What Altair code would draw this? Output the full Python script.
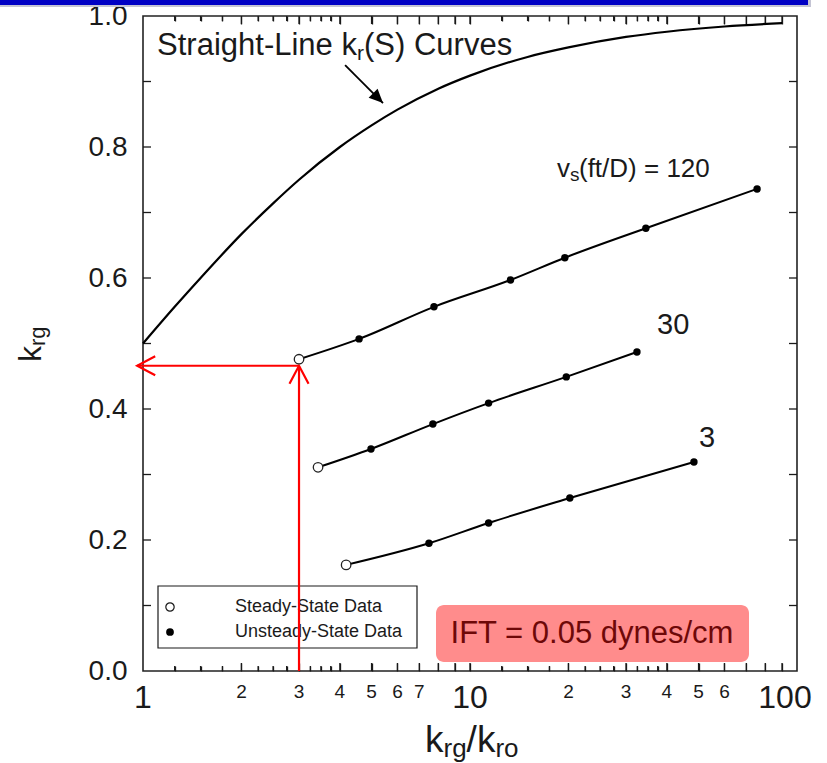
import altair as alt
import pandas as pd

# Straight-line relative permeability curve: krg against krg/kro
straight_ratio = [1, 1.25, 1.5, 2, 2.5, 3, 4, 5, 6, 8, 10, 15, 20, 30, 40, 60, 90]
straight_krg = [0.50, 0.556, 0.60, 0.667, 0.714, 0.75, 0.80, 0.833, 0.857,
                0.889, 0.909, 0.9375, 0.952, 0.968, 0.976, 0.984, 0.989]

# Displacement runs at three superficial velocities (first point is steady-state)
run_velocity = [120, 30, 3]
run_ratio = [
    [3.0, 4.58, 7.76, 13.3, 19.5, 34.5, 75.5],
    [3.43, 4.98, 7.7, 11.4, 19.7, 32.4],
    [4.18, 7.49, 11.4, 20.2, 48.4],
]
run_krg = [
    [0.476, 0.507, 0.556, 0.597, 0.631, 0.676, 0.736],
    [0.311, 0.339, 0.377, 0.409, 0.449, 0.487],
    [0.162, 0.195, 0.226, 0.264, 0.319],
]

# Reading krg off at krg/kro = 3
read_ratio = 3
read_krg = 0.466
read_left = 0.96

# Axis labels and ticks
x_decade_values = [1, 10]
x_decade_text = ["1", "10"]
x_end_values = [100]
x_end_text = ["100"]
x_digit_values = [2, 3, 4, 5, 6, 7, 20, 30, 40, 50, 60]
x_digit_text = ["2", "3", "4", "5", "6", "7", "2", "3", "4", "5", "6"]
x_major_ticks = [2, 3, 4, 5, 6, 7, 8, 9, 10, 20, 30, 40, 50, 60, 70, 80, 90]
x_minor_ticks = [1.25, 1.5, 1.75, 2.25, 2.5, 2.75, 3.25, 3.5, 3.75,
                 12.5, 15, 17.5, 22.5, 25, 27.5, 32.5, 35, 37.5]
y_label_values = [0.0, 0.2, 0.4, 0.6, 0.8, 1.0]
y_ticks = [0.1, 0.2, 0.3, 0.4, 0.5, 0.6, 0.7, 0.8, 0.9]

FONT = "Liberation Sans"
INK = "#1a1a1a"
RED = "#ff0000"
W, H = 654, 655

x_scale = alt.Scale(type="log", domain=[1, 100], nice=False)
y_scale = alt.Scale(domain=[0, 1], nice=False)

y_axis = alt.Axis(
    values=y_label_values, format=".1f", title=None, ticks=False, domain=False,
    grid=False, labelFont=FONT, labelFontSize=28, labelColor=INK, labelPadding=16,
)

X = alt.X("ratio:Q", scale=x_scale, axis=None)
Y = alt.Y("krg:Q", scale=y_scale, axis=y_axis)

# ---- tables ----
straight = pd.DataFrame({"ratio": straight_ratio, "krg": straight_krg})

rows = []
for vs, xs, ys in zip(run_velocity, run_ratio, run_krg):
    for i, (a, b) in enumerate(zip(xs, ys)):
        rows.append({"ratio": a, "krg": b, "vs": vs, "order": i,
                     "state": "steady" if i == 0 else "unsteady"})
runs = pd.DataFrame(rows)


# ---- frame ticks along top and bottom: axes pulled inside the frame ----
def tick_axis(values, size, top):
    return alt.Axis(
        orient="top" if top else "bottom", values=values, labels=False,
        domain=False, grid=False, ticks=True, tickSize=size, tickWidth=1.3,
        tickColor=INK, offset=-size, title=None,
    )


def x_ticks(values, length_px, top):
    depth = length_px / H
    xs = [float(v) for v in values]
    df = pd.DataFrame({
        "ratio": xs,
        "ratio2": xs,
        "krg": [1.0 if top else 0.0] * len(xs),
        "krg2": [1.0 - depth if top else depth] * len(xs),
    })
    return alt.Chart(df).mark_rule(color=INK, strokeWidth=1.3).encode(
        x=alt.X("ratio:Q", scale=x_scale, axis=tick_axis(xs, length_px, top)),
        x2="ratio2:Q", y=Y, y2="krg2:Q")


# ---- frame ticks along left and right ----
def y_ticks_layer(length, right):
    df = pd.DataFrame({"krg": y_ticks})
    centre = W - length / 2 if right else length / 2
    return alt.Chart(df).mark_tick(
        color=INK, orient="horizontal", size=length, thickness=1.3, opacity=1
    ).encode(y=Y, x=alt.value(centre))


ticks = [
    x_ticks(x_major_ticks, 8, False), x_ticks(x_minor_ticks, 5, False),
    x_ticks(x_major_ticks, 8, True), x_ticks(x_minor_ticks, 5, True),
    y_ticks_layer(8, False), y_ticks_layer(8, True),
]


# ---- x tick labels: large at decades, small digits in between ----
def x_labels(values, texts, size, dx=0):
    df = pd.DataFrame({"ratio": [float(v) for v in values],
                       "krg": [0.0] * len(values), "label": texts})
    return alt.Chart(df).mark_text(
        font=FONT, fontSize=size, color=INK, align="center", baseline="top",
        dy=12, dx=dx,
    ).encode(x=X, y=Y, text="label:N")


x_label_layers = [
    x_labels(x_decade_values, x_decade_text, 32),
    x_labels(x_end_values, x_end_text, 32, dx=-12),
    x_labels(x_digit_values, x_digit_text, 19),
]


# ---- helpers for text ----
def px_text(text, x, y, size, color=INK, align="left", baseline="alphabetic",
            angle=0, font=FONT):
    return alt.Chart(pd.DataFrame({"t": [text]})).mark_text(
        text=text, font=font, fontSize=size, color=color, align=align,
        baseline=baseline, angle=angle,
    ).encode(x=alt.value(x), y=alt.value(y))


def data_text(text, ratio, krg, size, dx=0, dy=0, align="left",
              baseline="alphabetic", font=FONT):
    return alt.Chart(pd.DataFrame({"ratio": [ratio], "krg": [krg]})).mark_text(
        text=text, font=font, fontSize=size, color=INK, align=align,
        baseline=baseline, dx=dx, dy=dy,
    ).encode(x=X, y=Y)


# ---- banner across the top ----
banner_shadow = alt.Chart(pd.DataFrame({"t": [0]})).mark_rect(color="#c4c4d4").encode(
    x=alt.value(-143), x2=alt.value(668), y=alt.value(-16), y2=alt.value(-9))
banner = alt.Chart(pd.DataFrame({"t": [0]})).mark_rect(color="#0000c4").encode(
    x=alt.value(-143), x2=alt.value(665), y=alt.value(-16), y2=alt.value(-11))

# ---- IFT note ----
ift_box = alt.Chart(pd.DataFrame({"t": [0]})).mark_rect(
    color="#ff8c8c", cornerRadius=8).encode(
    x=alt.value(293), x2=alt.value(606), y=alt.value(589), y2=alt.value(646))
ift_text = px_text("IFT = 0.05 dynes/cm", 449, 618, 31, color="#6e0808",
                   align="center", baseline="middle")

# ---- legend ----
legend_box = alt.Chart(pd.DataFrame({"t": [0]})).mark_rect(
    fill="white", stroke=INK, strokeWidth=1.2).encode(
    x=alt.value(15), x2=alt.value(274), y=alt.value(570), y2=alt.value(632))
legend_open = alt.Chart(pd.DataFrame({"t": [0]})).mark_circle(
    color="white", stroke=INK, strokeWidth=1.2, size=70, opacity=1).encode(
    x=alt.value(27), y=alt.value(591))
legend_fill = alt.Chart(pd.DataFrame({"t": [0]})).mark_circle(
    color="black", size=60, opacity=1).encode(x=alt.value(27), y=alt.value(616))
legend_t1 = px_text("Steady-State Data", 92, 591, 18, baseline="middle")
legend_t2 = px_text("Unsteady-State Data", 92, 616, 18, baseline="middle")

# ---- curves ----
straight_line = alt.Chart(straight).mark_line(
    color="black", strokeWidth=2.2, interpolate="monotone").encode(x=X, y=Y)
run_lines = alt.Chart(runs).mark_line(
    color="black", strokeWidth=2, interpolate="monotone").encode(
    x=X, y=Y, detail="vs:N", order="order:Q")
run_filled = alt.Chart(runs).transform_filter("datum.state == 'unsteady'").mark_circle(
    color="black", size=55, opacity=1).encode(x=X, y=Y)
run_open = alt.Chart(runs).transform_filter("datum.state == 'steady'").mark_circle(
    color="white", stroke="#222", strokeWidth=1.3, size=90, opacity=1).encode(x=X, y=Y)

# ---- red reading arrows ----
red_segments = pd.DataFrame({
    "ratio": [read_ratio, read_ratio],
    "krg": [0.0, read_krg],
    "ratio2": [read_ratio, read_left],
    "krg2": [read_krg, read_krg],
})
red_lines = alt.Chart(red_segments).mark_rule(color=RED, strokeWidth=2.2).encode(
    x=X, y=Y, x2="ratio2:Q", y2="krg2:Q")
red_heads = alt.Chart(pd.DataFrame({
    "ratio": [read_ratio, read_left], "krg": [read_krg, read_krg], "rot": [0, 270]
})).mark_point(shape="M-0.53,1L0,0L0.53,1", filled=False, color=RED,
               strokeWidth=2.2, size=1296, opacity=1).encode(
    x=X, y=Y, angle=alt.Angle("rot:Q", scale=None))

# ---- black pointer to the straight-line curve ----
pointer = alt.Chart(pd.DataFrame({
    "ratio": [4.15], "krg": [0.925], "ratio2": [5.42], "krg2": [0.867]
})).mark_rule(color="black", strokeWidth=1.8).encode(
    x=X, y=Y, x2="ratio2:Q", y2="krg2:Q")
pointer_head = alt.Chart(pd.DataFrame({"ratio": [5.42], "krg": [0.867]})).mark_point(
    shape="M0,0L-0.45,1L0.45,1Z", filled=True, color="black", size=784,
    angle=135, opacity=1).encode(x=X, y=Y)

# ---- annotations ----
curve_label = [
    data_text("Straight-Line k", 1.104, 0.940, 31),
    data_text("r", 1.104, 0.940, 21, dx=200, dy=5),
    data_text("(S) Curves", 1.104, 0.940, 31, dx=207),
]
vel_label = [
    data_text("v", 18.45, 0.754, 26),
    data_text("s", 18.45, 0.754, 19, dx=13, dy=4),
    data_text("(ft/D) = 120", 18.45, 0.754, 26, dx=22),
    data_text("30", 41.8, 0.528, 29, align="center", baseline="middle"),
    data_text("3", 53.1, 0.356, 29, align="center", baseline="middle"),
]

# ---- axis titles with subscripts ----
titles = [
    px_text("k", -102, 346, 32, angle=270),
    px_text("rg", -98, 330, 22, angle=270),
    px_text("k", 282, 736, 37),
    px_text("rg", 300.5, 741, 26),
    px_text("/", 323.6, 736, 37),
    px_text("k", 333.9, 736, 37),
    px_text("ro", 352.4, 741, 26),
]

chart = alt.layer(
    banner_shadow, banner, ift_box, *ticks, *x_label_layers, legend_box,
    legend_t1, legend_t2, legend_open, legend_fill, straight_line, run_lines,
    red_lines, red_heads, run_filled, run_open, pointer, pointer_head,
    *curve_label, *vel_label, ift_text, *titles,
).resolve_axis(x="independent").properties(
    width=W, height=H,
    autosize=alt.AutoSizeParams(type="none"),
    padding={"left": 143, "top": 16, "right": 30, "bottom": 92},
    background="white",
).configure_view(stroke="#222", strokeWidth=1.6)

chart.save("out.html", embed_options={"renderer": "svg", "actions": False})
